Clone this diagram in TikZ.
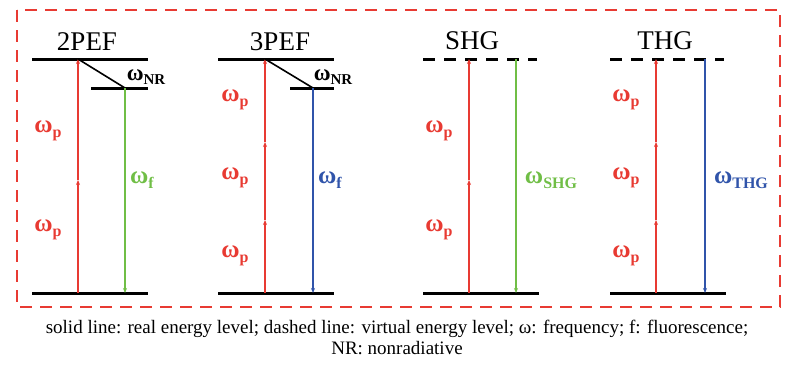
\documentclass[tikz,border=0pt]{standalone}
\usepackage{fontspec}
\setmainfont{Liberation Serif}
\usetikzlibrary{arrows.meta}
\definecolor{cred}{RGB}{232,58,50}
\definecolor{cgreen}{RGB}{112,190,70}
\definecolor{cblue}{RGB}{48,84,170}
\newcommand{\om}[1]{\textbf{ω\raisebox{-0.4ex}{\fontsize{16}{16}\selectfont #1}}}
\newcommand{\omnr}[1]{\textbf{ω\raisebox{-0.35ex}{\fontsize{15}{15}\selectfont #1}}}
\tikzset{
  level/.style={line width=3pt,black},
  vlevel/.style={line width=3pt,black,dash pattern=on 12pt off 9pt},
  pump/.style={cred,line width=1.3pt,-{Stealth[length=5pt,width=4pt]}},
  emitg/.style={cgreen,line width=1.3pt,-{Stealth[length=5pt,width=4pt]}},
  emitb/.style={cblue,line width=1.3pt,-{Stealth[length=5pt,width=4pt]}},
  nr/.style={black,line width=1.6pt},
  title/.style={font=\fontsize{27}{27}\selectfont,inner sep=0pt},
  wlab/.style={font=\fontsize{25}{25}\selectfont,inner sep=0pt},
  nrlab/.style={font=\fontsize{23}{23}\selectfont,inner sep=0pt},
  caption/.style={font=\fontsize{19}{21}\selectfont,inner sep=0pt,align=center}
}
\begin{document}
\begin{tikzpicture}[x=1pt,y=-1pt]
\useasboundingbox (0,0) rectangle (794,370);
\draw[cred,line width=2.5pt,dash pattern=on 12pt off 8pt] (17,10) rectangle (780,307);

% ---- 2PEF
\node[title] (t2pef) at (87,42) {2PEF};
\draw[level] (32,59) -- (148,59);
\draw[level] (91,88) -- (148,88);
\draw[level] (32,293) -- (148,293);
\coordinate (a0) at (78,293);
\coordinate (a1) at (78,180);
\coordinate (a2) at (78,59);
\coordinate (af0) at (125,88);
\coordinate (af1) at (125,293);
\draw[pump] (a0) -- (a1);
\draw[pump] (a1) -- (a2);
\draw[nr] (a2) -- (af0);
\draw[emitg] (af0) -- (af1);
\node[wlab,text=cred] (p2a) at (48,131) {\om{p}};
\node[wlab,text=cred] (p2b) at (48,230) {\om{p}};
\node[wlab,text=cgreen] (f2) at (142,180) {\om{f}};
\node[nrlab] (nr2) at (146,77) {\omnr{NR}};

% ---- 3PEF
\node[title] (t3pef) at (280,42) {3PEF};
\draw[level] (218,59) -- (334,59);
\draw[level] (290,88) -- (334,88);
\draw[level] (218,293) -- (334,293);
\coordinate (b0) at (265,293);
\coordinate (b1) at (265,220);
\coordinate (b2) at (265,142);
\coordinate (b3) at (265,59);
\coordinate (bf0) at (313,88);
\coordinate (bf1) at (313,293);
\draw[pump] (b0) -- (b1);
\draw[pump] (b1) -- (b2);
\draw[pump] (b2) -- (b3);
\draw[nr] (b3) -- (bf0);
\draw[emitb] (bf0) -- (bf1);
\node[wlab,text=cred] (p3a) at (235,100) {\om{p}};
\node[wlab,text=cred] (p3b) at (235,178) {\om{p}};
\node[wlab,text=cred] (p3c) at (235,256) {\om{p}};
\node[wlab,text=cblue] (f3) at (330,180) {\om{f}};
\node[nrlab] (nr3) at (333,77) {\omnr{NR}};

% ---- SHG
\node[title] (tshg) at (472,41) {SHG};
\draw[vlevel] (423,59) -- (537,59);
\draw[level] (423,293) -- (539,293);
\coordinate (c0) at (469,293);
\coordinate (c1) at (469,180);
\coordinate (c2) at (469,59);
\coordinate (cf0) at (516,59);
\coordinate (cf1) at (516,293);
\draw[pump] (c0) -- (c1);
\draw[pump] (c1) -- (c2);
\draw[emitg] (cf0) -- (cf1);
\node[wlab,text=cred] (ps1) at (439,131) {\om{p}};
\node[wlab,text=cred] (ps2) at (439,230) {\om{p}};
\node[wlab,text=cgreen] (fs) at (551,180) {\om{SHG}};

% ---- THG
\node[title] (tthg) at (665,41) {THG};
\draw[vlevel] (610,59) -- (724,59);
\draw[level] (610,293) -- (726,293);
\coordinate (d0) at (656,293);
\coordinate (d1) at (656,220);
\coordinate (d2) at (656,142);
\coordinate (d3) at (656,59);
\coordinate (df0) at (705,59);
\coordinate (df1) at (705,293);
\draw[pump] (d0) -- (d1);
\draw[pump] (d1) -- (d2);
\draw[pump] (d2) -- (d3);
\draw[emitb] (df0) -- (df1);
\node[wlab,text=cred] (pt1) at (626,100) {\om{p}};
\node[wlab,text=cred] (pt2) at (626,178) {\om{p}};
\node[wlab,text=cred] (pt3) at (626,256) {\om{p}};
\node[wlab,text=cblue] (ft) at (741,180) {\om{THG}};

% ---- caption
\node[caption] (cap) at (397,337) {solid line: real energy level; dashed line: virtual energy level; ω: frequency; f: fluorescence;\\NR: nonradiative};
\end{tikzpicture}
\end{document}
